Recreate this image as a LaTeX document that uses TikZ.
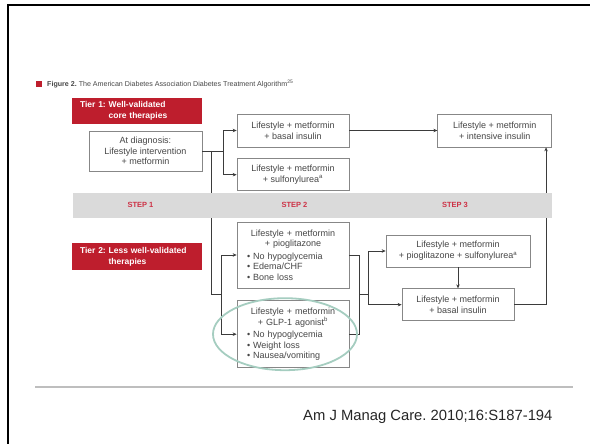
\documentclass[tikz,border=0pt]{standalone}
\usepackage{fontspec}
\setmainfont{Liberation Sans}
\usetikzlibrary{arrows.meta, positioning, calc}
\definecolor{tierred}{RGB}{190, 30, 45}
\definecolor{stepred}{RGB}{205, 50, 70}
\definecolor{bandgrey}{RGB}{218, 218, 218}
\definecolor{boxline}{RGB}{135, 135, 135}
\definecolor{txtgrey}{RGB}{70, 70, 70}
\definecolor{ringgreen}{RGB}{165, 205, 192}
\definecolor{rulegrey}{RGB}{190, 190, 190}
\newcommand{\bul}{\hspace*{4pt}\textbullet~}
\frenchspacing

\begin{document}
\begin{tikzpicture}[
  x=1pt, y=-1pt,
  node distance=11pt and 88pt,
  box/.style={rectangle, draw=boxline, line width=0.7pt, fill=white, text=txtgrey,
              minimum width=112pt, minimum height=33pt, inner sep=0pt, align=center,
              font=\fontsize{9}{11}\selectfont},
  listbox/.style={rectangle, draw=boxline, line width=0.7pt, fill=white, text=txtgrey,
              text width=100pt, inner xsep=6pt, inner ysep=0pt, minimum height=66pt,
              font=\fontsize{9}{10.5}\selectfont},
  tier/.style={rectangle, fill=tierred, text=white, text width=114pt, inner xsep=8pt,
               inner ysep=0pt, minimum height=26pt, align=left,
               font=\bfseries\fontsize{8.5}{11}\selectfont},
  band/.style={rectangle, fill=bandgrey, minimum width=479pt, minimum height=25pt, inner sep=0pt},
  steplbl/.style={text=stepred, font=\bfseries\fontsize{7.5}{9}\selectfont, inner sep=0pt},
  arr/.style={-{Stealth[length=4pt, width=3.5pt]}, line width=0.9pt, txtgrey!85!black},
  link/.style={line width=0.9pt, txtgrey!85!black}
]
  \useasboundingbox (0,0) rectangle (590,444);
  % slide frame
  \draw[line width=2.5pt] (8,444) -- (8,5) -- (590,5);

  % title
  \node[anchor=base west, inner sep=0pt, text=txtgrey, font=\fontsize{7.1}{8}\selectfont] (title) at (47,87)
    {\textbf{Figure 2.} The American Diabetes Association Diabetes Treatment Algorithm\textsuperscript{25}};
  \fill[tierred] (36,81) rectangle (42,87);

  % tier 1
  \node[tier] (tier1) at (137,111) {Tier 1: Well-validated\\\phantom{Tier 1: }core therapies};
  \node[box, minimum width=113pt, minimum height=40pt, font=\fontsize{9}{10.5}\selectfont] (diag) at (145.5,151)
    {At diagnosis:\\Lifestyle intervention\\+ metformin};
  \node[box] (basal1) at (293,130.5) {Lifestyle + metformin\\+ basal insulin};
  \node[box, minimum height=32pt, below=of basal1] (sulf) {Lifestyle + metformin\\+ sulfonylurea\textsuperscript{a}};
  \node[box, minimum width=114pt, right=of basal1] (intens) {Lifestyle + metformin\\+ intensive insulin};

  % tier 2
  \node[tier, minimum height=27pt] (tier2) at (137,256.5) {Tier 2: Less well-validated\\\phantom{Tier 2: }therapies};
  \node[listbox] (pio) at (293,255)
    {\parindent=0pt{\centering Lifestyle + metformin\\+ pioglitazone\par}\vspace{2pt}\raggedright
     \bul No hypoglycemia\\\bul Edema/CHF\\\bul Bone loss};
  \node[listbox, minimum height=67pt, below=12pt of pio] (glp)
    {\parindent=0pt{\centering Lifestyle + metformin\\+ GLP-1 agonist\textsuperscript{b}\par}\vspace{2pt}\raggedright
     \bul No hypoglycemia\\\bul Weight loss\\\bul Nausea/vomiting};
  \node[box, minimum width=144pt, minimum height=32pt] (piosu) at (458,251)
    {Lifestyle + metformin\\+ pioglitazone + sulfonylurea\textsuperscript{a}};
  \node[box, minimum height=32pt, below=21pt of piosu] (basal2) {Lifestyle + metformin\\+ basal insulin};

  % connectors
  \coordinate (j1) at ($(diag.east)+(21,0)$);
  \coordinate (j2) at ($(diag.east)+(9,0)$);
  \coordinate (j3) at ($(pio.west)!0.5!(glp.west)+(-15,0)$);
  \coordinate (j4) at ($(pio.east)!0.5!(glp.east)+(10,0)$);
  \coordinate (j5) at ($(j4)+(9,0)$);
  \draw[link] (diag.east) -- (j1);
  \draw[arr] (j1) |- (basal1);
  \draw[arr] (j1) |- (sulf);
  \draw[arr] (basal1) -- (intens);
  \draw[link] (j2) |- (j3);
  \draw[arr] (j3) |- (pio);
  \draw[arr] (j3) |- (glp);
  \draw[link] (pio.east) -| (j4);
  \draw[link] (glp.east) -| (j4);
  \draw[link] (j4) -- (j5);
  \draw[arr] (j5) |- (piosu);
  \draw[arr] (j5) |- (basal2);
  \draw[arr] (piosu.south) -- (piosu.south |- basal2.north);
  \draw[arr] (basal2.east) -| ($(intens.south east)+(-6,0)$);

  % step band on top of the lines
  \node[band] (band) at (312.5,205.5) {};
  \node[steplbl] (step1) at (140.5,204.5) {STEP 1};
  \node[steplbl] (step2) at (294.5,204.5) {STEP 2};
  \node[steplbl] (step3) at (455,204.5) {STEP 3};

  % highlight ring
  \draw[ringgreen, line width=1.8pt] ($(glp.center)+(-8,0)$) ellipse [x radius=72pt, y radius=36pt];

  % footer
  \draw[rulegrey, line width=1.2pt] (35,387) -- (573,387);
  \node[anchor=base west, inner sep=0pt, text=black!85, font=\fontsize{14.8}{16}\selectfont] (cite) at (303,420)
    {Am J Manag Care. 2010;16:S187-194};
\end{tikzpicture}
\end{document}
